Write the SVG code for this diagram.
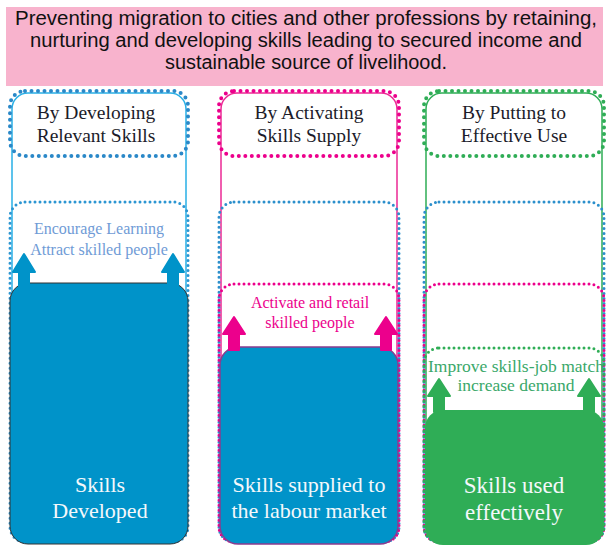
<svg xmlns="http://www.w3.org/2000/svg" width="607" height="546" viewBox="0 0 607 546">
<style>
.title{font-family:"Liberation Sans",Arial,sans-serif;font-size:19.5px;fill:#111;text-anchor:middle}
.hd{font-family:"Liberation Serif","DejaVu Serif",serif;font-size:19.5px;fill:#1c1c2a;text-anchor:middle}
.mid{font-family:"Liberation Serif","DejaVu Serif",serif;font-size:16px;text-anchor:middle}
.big{font-family:"Liberation Serif","DejaVu Serif",serif;font-size:22px;fill:#f4f8fb;text-anchor:middle}
.outer{fill:none;stroke-width:1.5}
.dotH{fill:none;stroke-width:4;stroke-dasharray:0 6.5;stroke-linecap:round}
.dotS{fill:none;stroke-width:3;stroke-dasharray:0 5;stroke-linecap:round}
</style>
<rect x="6" y="7" width="597" height="79" fill="#f8b3cd"/>
<text class="title" x="306" y="25" textLength="582" lengthAdjust="spacingAndGlyphs">Preventing migration to cities and other professions by retaining,</text>
<text class="title" x="306" y="47" textLength="552" lengthAdjust="spacingAndGlyphs">nurturing and developing skills leading to secured income and</text>
<text class="title" x="306" y="69" textLength="282" lengthAdjust="spacingAndGlyphs">sustainable source of livelihood.</text>

<g id="col1">
<rect class="outer" x="12" y="93" width="174" height="448" rx="16" stroke="#29b0e6"/>
<rect class="dotH" x="10" y="91" width="178" height="65" rx="15" stroke="#2a88c8"/>
<text class="hd" x="96" y="119">By Developing</text>
<text class="hd" x="96" y="142">Relevant Skills</text>
<rect class="dotS" x="10" y="202" width="178" height="340" rx="15" stroke="#2b95d2"/>
<text class="mid" x="99" y="234" fill="#6f9bd6">Encourage Learning</text>
<text class="mid" x="99" y="255" fill="#6f9bd6">Attract skilled people</text>
<rect x="10" y="283" width="178" height="261" rx="18" fill="#0093c9" stroke="#333" stroke-width="1"/>
<path d="M24,254 L35,272 L29,272 L29,290 L19,290 L19,272 L13,272 Z M173,254 L184,272 L178,272 L178,290 L168,290 L168,272 L162,272 Z" fill="#0093c9" stroke="#0093c9" stroke-width="2" stroke-linejoin="round"/>
<text class="big" x="100" y="492">Skills</text>
<text class="big" x="100" y="518">Developed</text>
</g>

<g id="col2">
<rect class="outer" x="221" y="93" width="176" height="448" rx="16" stroke="#ec2a95"/>
<rect class="dotH" x="219" y="91" width="180" height="65" rx="15" stroke="#ec008c"/>
<text class="hd" x="309" y="119">By Activating</text>
<text class="hd" x="309" y="142">Skills Supply</text>
<rect class="dotS" x="219" y="202" width="180" height="340" rx="15" stroke="#2b8fcc"/>
<rect class="dotS" x="219" y="284" width="180" height="258" rx="15" stroke="#ec008c"/>
<text class="mid" x="310" y="308" fill="#ec008c">Activate and retail</text>
<text class="mid" x="310" y="328" fill="#ec008c">skilled people</text>
<rect x="220" y="347" width="178" height="197" rx="18" fill="#0093c9" stroke="#8a3c8f" stroke-width="1.5"/>
<path d="M234,317 L245,334 L239,334 L239,350 L229,350 L229,334 L223,334 Z M386,317 L397,334 L391,334 L391,350 L381,350 L381,334 L375,334 Z" fill="#ec008c" stroke="#ec008c" stroke-width="2" stroke-linejoin="round"/>
<text class="big" x="309" y="492">Skills supplied to</text>
<text class="big" x="309" y="518">the labour market</text>
</g>

<g id="col3">
<rect class="outer" x="426" y="93" width="176" height="448" rx="16" stroke="#2fad56"/>
<rect class="dotH" x="424" y="91" width="180" height="65" rx="15" stroke="#2fad56"/>
<text class="hd" x="514" y="119">By Putting to</text>
<text class="hd" x="514" y="142">Effective Use</text>
<rect class="dotS" x="424" y="202" width="180" height="340" rx="15" stroke="#2b8fcc"/>
<rect class="dotS" x="424" y="284" width="180" height="258" rx="15" stroke="#ec008c"/>
<rect class="dotS" x="424" y="348" width="180" height="194" rx="15" stroke="#2fad56"/>
<text class="mid" x="516" y="372" fill="#3aa86a" style="font-size:17.5px">Improve skills-job match</text>
<text class="mid" x="516" y="391" fill="#3aa86a" style="font-size:17.5px">increase demand</text>
<rect x="425" y="410" width="179" height="135" rx="18" fill="#2fad56"/>
<path d="M439,379 L450,396 L444,396 L444,412 L434,412 L434,396 L428,396 Z M589,379 L600,396 L594,396 L594,412 L584,412 L584,396 L578,396 Z" fill="#2fad56" stroke="#2fad56" stroke-width="2" stroke-linejoin="round"/>
<text class="big" x="514" y="493" style="font-size:23px">Skills used</text>
<text class="big" x="514" y="520" style="font-size:23px">effectively</text>
</g>
</svg>
